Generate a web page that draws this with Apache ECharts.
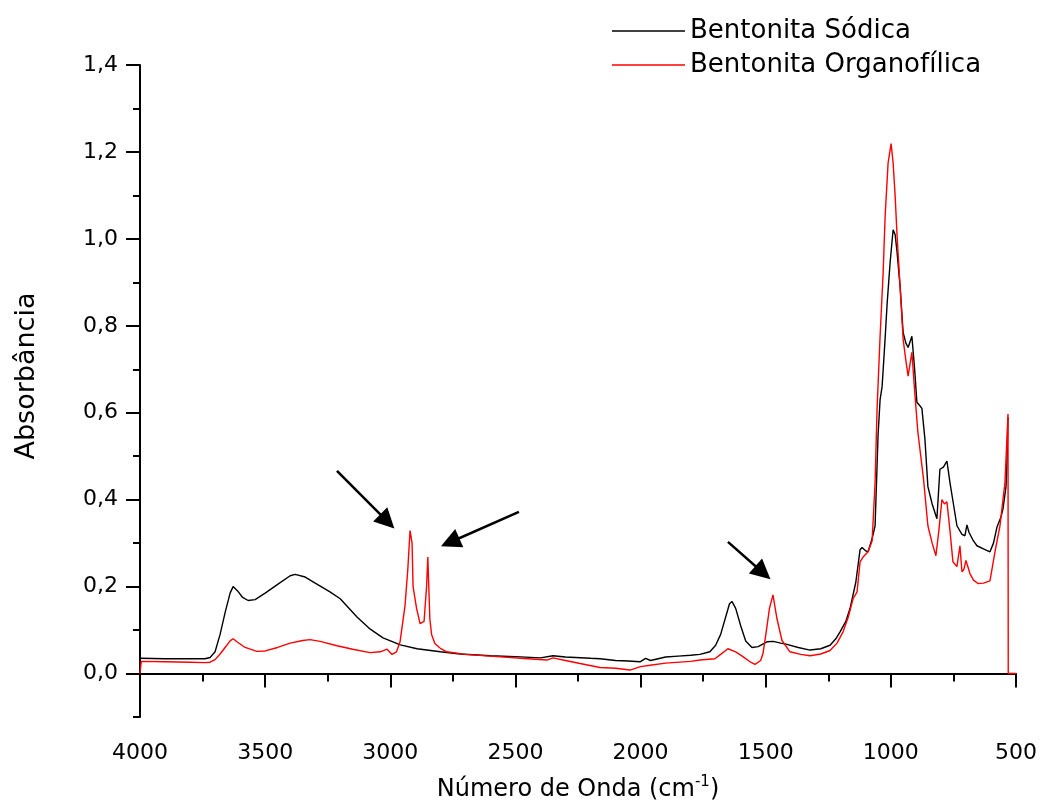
<!DOCTYPE html>
<html>
<head>
    <meta charset="utf-8">
    <title>Bentonita FTIR</title>
    <script src="https://cdn.jsdelivr.net/npm/echarts@6/dist/echarts.min.js"></script>
    <style>
        html, body { margin: 0; padding: 0; background: #fff; }
        #chart1 { width: 1040px; height: 801px; }
    </style>
</head>
<body>
<div id="chart1"></div>
<script type="text/javascript">
    // Bentonita Sódica (preto)
    var wnSodica = [4000, 3900, 3800, 3740, 3720, 3700, 3680, 3660, 3640, 3628, 3610, 3590, 3568, 3540, 3500, 3450, 3400, 3380, 3340, 3300,
        3241, 3200, 3133, 3080, 3029, 2960, 2893, 2800, 2721, 2600, 2500, 2400, 2350, 2300, 2200, 2162, 2100, 2050, 2002, 1980,
        1960, 1900, 1850, 1800, 1763, 1723, 1700, 1680, 1660, 1645, 1635, 1620, 1600, 1580, 1555, 1530, 1495, 1470, 1440, 1415,
        1370, 1323, 1280, 1243, 1220, 1203, 1180, 1163, 1140, 1123, 1115, 1100, 1091, 1075, 1063, 1051, 1043, 1035, 1023, 1015,
        1003, 991, 983, 975, 963, 951, 940, 931, 916, 905, 896, 884, 876, 864, 852, 835, 816, 804, 790, 776,
        764, 750, 736, 716, 704, 696, 688, 670, 656, 630, 604, 590, 576, 560, 552, 540, 536, 532];
    var absSodica = [0.035, 0.034, 0.034, 0.034, 0.037, 0.05, 0.09, 0.14, 0.185, 0.200, 0.19, 0.175, 0.168, 0.170, 0.185, 0.205, 0.225, 0.228, 0.222, 0.208,
        0.188, 0.172, 0.130, 0.102, 0.082, 0.066, 0.057, 0.050, 0.045, 0.041, 0.039, 0.036, 0.041, 0.038, 0.035, 0.034, 0.030, 0.029, 0.027, 0.035,
        0.030, 0.038, 0.040, 0.042, 0.044, 0.050, 0.065, 0.09, 0.13, 0.160, 0.166, 0.150, 0.110, 0.075, 0.060, 0.062, 0.073, 0.074, 0.070, 0.067,
        0.060, 0.054, 0.057, 0.065, 0.080, 0.096, 0.120, 0.150, 0.210, 0.285, 0.290, 0.282, 0.280, 0.310, 0.340, 0.550, 0.63, 0.66, 0.77, 0.85,
        0.945, 1.021, 1.01, 0.968, 0.89, 0.785, 0.760, 0.750, 0.776, 0.70, 0.624, 0.616, 0.610, 0.54, 0.43, 0.39, 0.356, 0.47, 0.475, 0.489,
        0.44, 0.39, 0.34, 0.32, 0.317, 0.342, 0.325, 0.305, 0.294, 0.287, 0.280, 0.30, 0.337, 0.36, 0.379, 0.43, 0.486, 0.59];

    // Bentonita Organofílica (vermelho)
    var wnOrgano = [4000, 3995, 3900, 3800, 3740, 3720, 3700, 3680, 3660, 3640, 3628, 3610, 3580, 3533, 3500, 3450, 3400, 3350, 3321, 3280,
        3213, 3150, 3081, 3040, 3013, 2993, 2975, 2961, 2941, 2930, 2921, 2913, 2909, 2895, 2881, 2865, 2855, 2850, 2842, 2835,
        2822, 2800, 2774, 2700, 2574, 2450, 2374, 2350, 2300, 2242, 2162, 2100, 2042, 2000, 1962, 1900, 1800, 1763, 1703, 1680,
        1651, 1620, 1591, 1560, 1543, 1520, 1511, 1499, 1485, 1471, 1455, 1435, 1403, 1360, 1323, 1280, 1243, 1215, 1191, 1170,
        1151, 1135, 1123, 1111, 1091, 1075, 1071, 1063, 1055, 1043, 1031, 1023, 1011, 999, 991, 983, 975, 963, 951, 940,
        931, 916, 905, 892, 870, 852, 835, 820, 808, 796, 786, 776, 764, 752, 736, 724, 716, 708, 700, 684,
        670, 652, 630, 604, 584, 564, 544, 532, 531, 500];
    var absOrgano = [0.0, 0.028, 0.027, 0.026, 0.025, 0.026, 0.032, 0.045, 0.060, 0.075, 0.080, 0.072, 0.060, 0.051, 0.052, 0.060, 0.070, 0.076, 0.078, 0.074,
        0.064, 0.056, 0.048, 0.050, 0.056, 0.044, 0.050, 0.073, 0.157, 0.24, 0.329, 0.30, 0.20, 0.15, 0.115, 0.12, 0.20, 0.268, 0.126, 0.09,
        0.069, 0.058, 0.050, 0.044, 0.039, 0.034, 0.031, 0.036, 0.030, 0.023, 0.014, 0.012, 0.008, 0.016, 0.019, 0.024, 0.028, 0.031, 0.034, 0.044,
        0.057, 0.050, 0.039, 0.026, 0.021, 0.030, 0.046, 0.092, 0.150, 0.181, 0.126, 0.076, 0.050, 0.044, 0.041, 0.045, 0.053, 0.070, 0.096, 0.130,
        0.172, 0.188, 0.257, 0.268, 0.280, 0.305, 0.349, 0.440, 0.61, 0.776, 0.92, 1.05, 1.175, 1.219, 1.175, 1.10, 1.005, 0.89, 0.769, 0.72,
        0.684, 0.739, 0.65, 0.555, 0.45, 0.34, 0.30, 0.271, 0.33, 0.40, 0.39, 0.395, 0.33, 0.257, 0.246, 0.294, 0.234, 0.24, 0.26, 0.230,
        0.215, 0.207, 0.208, 0.213, 0.280, 0.340, 0.44, 0.597, 0.0, 0.0];

    // setas (início / fim em coordenadas de dados)
    var arrowStart = [[3213, 0.466], [2486, 0.372], [1651, 0.303]];
    var arrowEnd = [[3012, 0.350], [2761, 0.302], [1511, 0.232]];

    var yMajorTicks = [0, 0.2, 0.4, 0.6, 0.8, 1.0, 1.2, 1.4];

    function pairs(xs, ys) {
        return xs.map(function (x, i) { return [x, ys[i]]; });
    }

    var fontName = 'DejaVu Sans';
    var myChart1 = echarts.init(document.getElementById('chart1'));

    myChart1.setOption({
        backgroundColor: '#fff',
        animation: false,
        grid: { left: 140, right: 24, top: 65, bottom: 84, containLabel: false, outerBoundsMode: 'none' },
        legend: {
            orient: 'vertical',
            left: 607,
            top: 13,
            icon: 'rect',
            itemWidth: 73,
            itemHeight: 1.4,
            itemGap: 8,
            textStyle: { fontFamily: fontName, fontSize: 26, color: '#000' },
            data: ['Bentonita Sódica', 'Bentonita Organofílica']
        },
        xAxis: {
            type: 'value',
            inverse: true,
            min: 500,
            max: 4000,
            interval: 500,
            name: '{a|Número de Onda (cm}{s|-1}{a|)}',
            nameLocation: 'middle',
            nameGap: 58,
            nameTextStyle: {
                rich: {
                    a: { fontFamily: fontName, fontSize: 24, color: '#000' },
                    s: { fontFamily: fontName, fontSize: 15, color: '#000', verticalAlign: 'bottom', padding: [0, 0, 14, 0] }
                }
            },
            axisLine: { lineStyle: { color: '#000', width: 2 } },
            axisTick: { length: 14, lineStyle: { color: '#000', width: 2 } },
            minorTick: { show: true, splitNumber: 2, length: 8, lineStyle: { color: '#000', width: 2 } },
            axisLabel: {
                fontFamily: fontName, fontSize: 22, color: '#000', margin: 25,
                showMinLabel: true, showMaxLabel: true,
                formatter: function (v) { return String(v); }
            },
            splitLine: { show: false }
        },
        yAxis: [
            {
                type: 'value',
                min: -0.1,
                max: 1.4,
                interval: 0.1,
                position: 'left',
                name: 'Absorbância',
                nameLocation: 'middle',
                nameGap: 100,
                nameTextStyle: { fontFamily: fontName, fontSize: 27, color: '#000', padding: [0, 0, 0, 30] },
                axisLine: { show: true, lineStyle: { color: '#000', width: 2 } },
                axisTick: { length: 7, lineStyle: { color: '#000', width: 2 } },
                axisLabel: { show: false },
                splitLine: { show: false }
            },
            {
                type: 'value',
                min: -0.1,
                max: 1.4,
                interval: 0.1,
                position: 'left',
                axisLine: { show: false },
                axisTick: { show: true, customValues: yMajorTicks, length: 14, lineStyle: { color: '#000', width: 2 } },
                axisLabel: {
                    customValues: yMajorTicks,
                    fontFamily: fontName, fontSize: 22, color: '#000', margin: 22,
                    formatter: function (v) { return v.toFixed(1).replace('.', ','); }
                },
                splitLine: { show: false }
            }
        ],
        series: [
            {
                name: 'Bentonita Sódica',
                type: 'line',
                showSymbol: false,
                symbol: 'none',
                lineStyle: { color: '#000', width: 1.4 },
                itemStyle: { color: '#000' },
                data: pairs(wnSodica, absSodica)
            },
            {
                name: 'Bentonita Organofílica',
                type: 'line',
                showSymbol: false,
                symbol: 'none',
                lineStyle: { color: '#ff0000', width: 1.4 },
                itemStyle: { color: '#ff0000' },
                data: pairs(wnOrgano, absOrgano),
                markLine: {
                    silent: true,
                    animation: false,
                    symbol: ['none', 'triangle'],
                    symbolSize: 20,
                    label: { show: false },
                    lineStyle: { color: '#000', width: 2.5, type: 'solid' },
                    data: arrowStart.map(function (s, i) {
                        return [{ coord: s }, { coord: arrowEnd[i] }];
                    })
                }
            }
        ]
    });
</script>
</body>
</html>
